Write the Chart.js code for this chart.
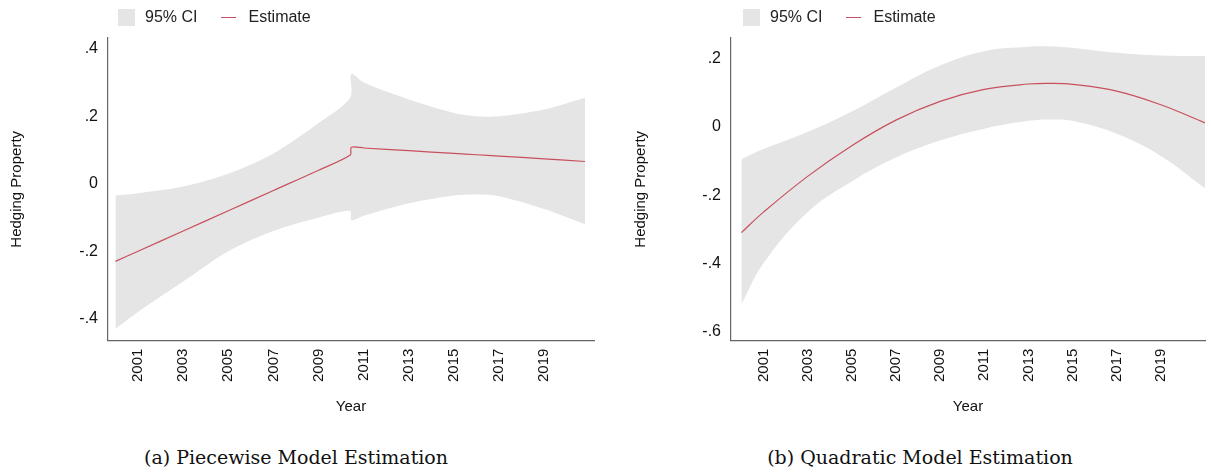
<!DOCTYPE html>
<html>
<head>
<meta charset="utf-8">
<script src="https://cdn.jsdelivr.net/npm/chart.js@4"></script>
<style>
  body { margin: 0; background: #fff; width: 1211px; height: 472px; overflow: hidden; position: relative; font-family: 'Liberation Sans', Arial, sans-serif; }
  .panel { position: absolute; top: 0; height: 420px; }
  .legend { position: absolute; top: 8px; font-size: 16px; color: #222; display: flex; align-items: center; }
  .box { width: 17px; height: 17px; background: #e5e5e5; display: inline-block; margin-right: 10px; }
  .ln { width: 15px; height: 1px; background: #c8505e; display: inline-block; margin: 0 12px 0 24px; }
  .cap { position: absolute; top: 446px; font-family: 'DejaVu Serif', 'Liberation Serif', serif; font-size: 19px; color: #111; transform: translateX(-50%); white-space: nowrap; }
</style>
</head>
<body>
<div class="panel" style="left:0;width:600px"><canvas id="chartA"></canvas></div>
<div class="panel" style="left:610px;width:601px"><canvas id="chartB"></canvas></div>
<div class="legend" style="left:118px"><span class="box"></span>95% CI<span class="ln"></span>Estimate</div>
<div class="legend" style="left:743px"><span class="box"></span>95% CI<span class="ln"></span>Estimate</div>
<div class="cap" style="left:296px">(a) Piecewise Model Estimation</div>
<div class="cap" style="left:920px">(b) Quadratic Model Estimation</div>
<script>
const yearTicks = [2001, 2003, 2005, 2007, 2009, 2011, 2013, 2015, 2017, 2019]

// (a) piecewise
const yearsA = [2000, 2001, 2003, 2005, 2007, 2009, 2010.4, 2010.45, 2011, 2013, 2015, 2016, 2017, 2019, 2020.8]
const estA = [-0.23, -0.2, -0.14, -0.08, -0.02, 0.04, 0.085, 0.108, 0.106, 0.098, 0.09, 0.086, 0.082, 0.074, 0.066]
const upA = [-0.035, -0.028, -0.008, 0.03, 0.09, 0.18, 0.255, 0.325, 0.3, 0.25, 0.21, 0.2, 0.2, 0.22, 0.255]
const loA = [-0.43, -0.38, -0.29, -0.2, -0.14, -0.1, -0.08, -0.108, -0.095, -0.058, -0.035, -0.032, -0.037, -0.075, -0.12]
const yTicksA = [-0.4, -0.2, 0, 0.2, 0.4]

// (b) quadratic
const yearsB = [2000, 2001, 2003, 2005, 2007, 2009, 2011, 2013, 2014, 2015, 2017, 2019, 2021]
const estB = [-0.31, -0.25, -0.145, -0.055, 0.02, 0.075, 0.11, 0.126, 0.128, 0.125, 0.105, 0.065, 0.012]
const upB = [-0.095, -0.065, -0.015, 0.045, 0.115, 0.18, 0.222, 0.235, 0.236, 0.232, 0.218, 0.21, 0.208]
const loB = [-0.52, -0.4, -0.25, -0.16, -0.09, -0.04, -0.005, 0.018, 0.022, 0.018, -0.02, -0.085, -0.18]
const yTicksB = [-0.6, -0.4, -0.2, 0, 0.2]

const pts = (xs, ys) => xs.map((x, i) => ({ x, y: ys[i] }))
const fmt = (v) => (v === 0 ? '0' : String(Number(v.toFixed(1))).replace('0.', '.'))
const font = { family: "'Liberation Sans', Arial, sans-serif", size: 15 }

function makeChart(id, years, est, up, lo, yTicks, xr, yr, yWidth, titlePad, tension) {
  new Chart(document.getElementById(id), {
    type: 'line',
    data: {
      datasets: [
        { data: pts(years, up), borderWidth: 0, pointRadius: 0, fill: '+1', backgroundColor: '#e5e5e5', tension, order: 2 },
        { data: pts(years, lo), borderWidth: 0, pointRadius: 0, fill: false, tension, order: 2 },
        { data: pts(years, est), borderColor: '#c8505e', borderWidth: 1.2, pointRadius: 0, fill: false, tension, order: 0 },
      ],
    },
    options: {
      responsive: true,
      maintainAspectRatio: false,
      animation: false,
      layout: { padding: { top: 38, right: 6, bottom: 0 } },
      plugins: { legend: { display: false }, tooltip: { enabled: false } },
      scales: {
        x: {
          type: 'linear',
          min: xr[0],
          max: xr[1],
          afterBuildTicks: (s) => { s.ticks = yearTicks.map((v) => ({ value: v })) },
          grid: { display: false, drawTicks: false },
          border: { color: '#666', width: 1.2 },
          ticks: { font, color: '#111', minRotation: 90, maxRotation: 90, padding: 8, callback: (v) => String(v) },
          title: { display: true, text: 'Year', font, color: '#111', padding: { top: 8, bottom: 4 } },
        },
        y: {
          min: yr[0],
          max: yr[1],
          afterBuildTicks: (s) => { s.ticks = yTicks.map((v) => ({ value: v })) },
          afterFit: (s) => { s.width = yWidth },
          grid: { display: false, drawTicks: false },
          border: { color: '#666', width: 1.2 },
          ticks: { font: { ...font, size: 16 }, color: '#111', padding: 10, callback: fmt },
          title: { display: true, text: 'Hedging Property', font, color: '#111', padding: { top: titlePad, bottom: 0 } },
        },
      },
    },
  })
}

makeChart('chartA', yearsA, estA, upA, loA, yTicksA, [1999.67, 2021.2], [-0.465, 0.432], 108, 8, 0.3)
makeChart('chartB', yearsB, estB, upB, loB, yTicksB, [1999.53, 2021.0], [-0.627, 0.261], 121, 22, 0.4)
</script>
</body>
</html>
